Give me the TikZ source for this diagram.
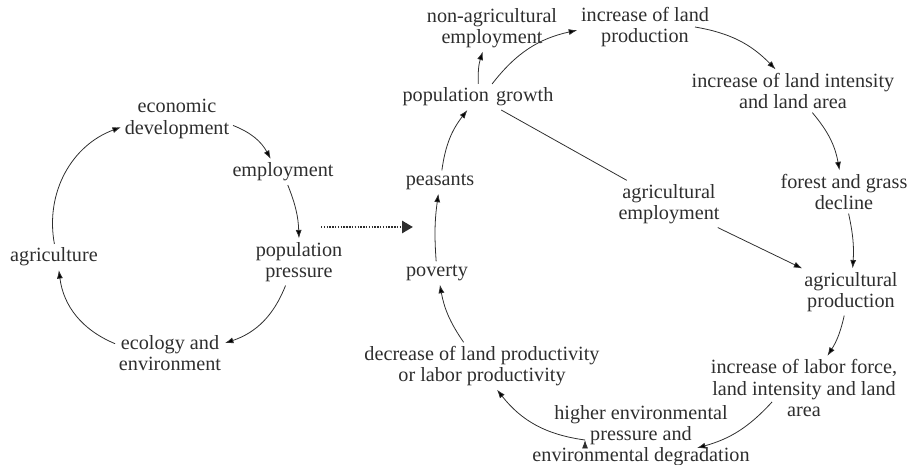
\documentclass[tikz,border=0pt]{standalone}
\usepackage{fontspec}
\setmainfont{Liberation Serif}
\usepackage{xcolor}
\usetikzlibrary{arrows.meta}
\definecolor{ink}{HTML}{2E2E2E}

\begin{document}
\begin{tikzpicture}[x=0.02cm,y=-0.02cm,
	lbl/.style={align=center,inner sep=2pt,text=ink,font=\fontsize{11.5}{12}\selectfont}]
		\useasboundingbox (0,0) rectangle (912,465);
		% left cycle
		\node[lbl] (econ) at (177,119) {economic\\development};
		\node[lbl] (empl) at (283,172) {employment};
		\node[lbl] (popp) at (299,262) {population\\pressure};
		\node[lbl] (ecol) at (170,353) {ecology and\\environment};
		\node[lbl] (agri) at (54,257) {agriculture};
		% right cycle
		\node[lbl] (nagr) at (492,28) {non-agricultural\\employment};
		\node[lbl] (lprod) at (645,27) {increase of land\\production};
		\node[lbl] (pgro) at (478,97) {population\hspace{0.35em}growth};
		\node[lbl] (peas) at (440,182) {peasants};
		\node[lbl] (pov) at (437,273) {poverty};
		\node[lbl] (decr) at (482,366) {decrease of land productivity\\or labor productivity};
		\node[lbl] (agre) at (669,204) {agricultural\\employment};
		\node[lbl] (lint) at (793,91) {increase of land intensity\\and land area};
		\node[lbl] (fgd) at (844,192) {forest and grass\\decline};
		\node[lbl] (agrp) at (851,292) {agricultural\\production};
		\node[lbl] (labf) at (804,388) {increase of labor force,\\land intensity and land\\area};
		\node[lbl] (hienv) at (641,436) {higher environmental\\pressure and\\environmental degradation};
		\coordinate (dotS) at (321,227);
		\coordinate (dotE) at (413,227);
		%
		\draw[ink,line width=1.5pt,dash pattern=on 0.8pt off 0.8pt,-{Triangle[length=2.2mm,width=2.4mm]}] (dotS) -- (dotE);
		\path[->,draw=ink,line width=0.45pt,>={Latex[length=1.7mm,width=1.2mm]}]
		% left cycle
		(econ) edge[bend left=20] (empl)
		(empl) edge[bend left=10] (popp)
		(popp) edge[bend left=25] (ecol)
		(ecol) edge[bend left=30] (agri)
		(agri) edge[bend left=40] (econ)
		% right cycle, upper part
		(pov) edge[bend left=6] (peas)
		(peas) edge[bend left=15] (pgro)
		(pgro) edge[bend left=10] (nagr)
		(pgro) edge[bend left=20] (lprod)
		([xshift=1cm]lprod.center) edge[bend left=18] (lint)
		(lint) edge[bend left=15] (fgd)
		(fgd) edge[bend left=8] (agrp)
		(pgro) edge[-] (agre)
		(agre) edge (agrp)
		% right cycle, lower part
		(agrp) edge[bend left=10] (labf)
		([xshift=-0.64cm,yshift=-0.28cm]labf.center) edge[bend left=16] ([xshift=1.12cm,yshift=-0.24cm]hienv.center)
		([xshift=-1.12cm,yshift=-0.08cm]hienv.center) edge[bend left=22] (decr)
		(decr) edge[bend left=12] (pov);
	\end{tikzpicture}
\end{document}
